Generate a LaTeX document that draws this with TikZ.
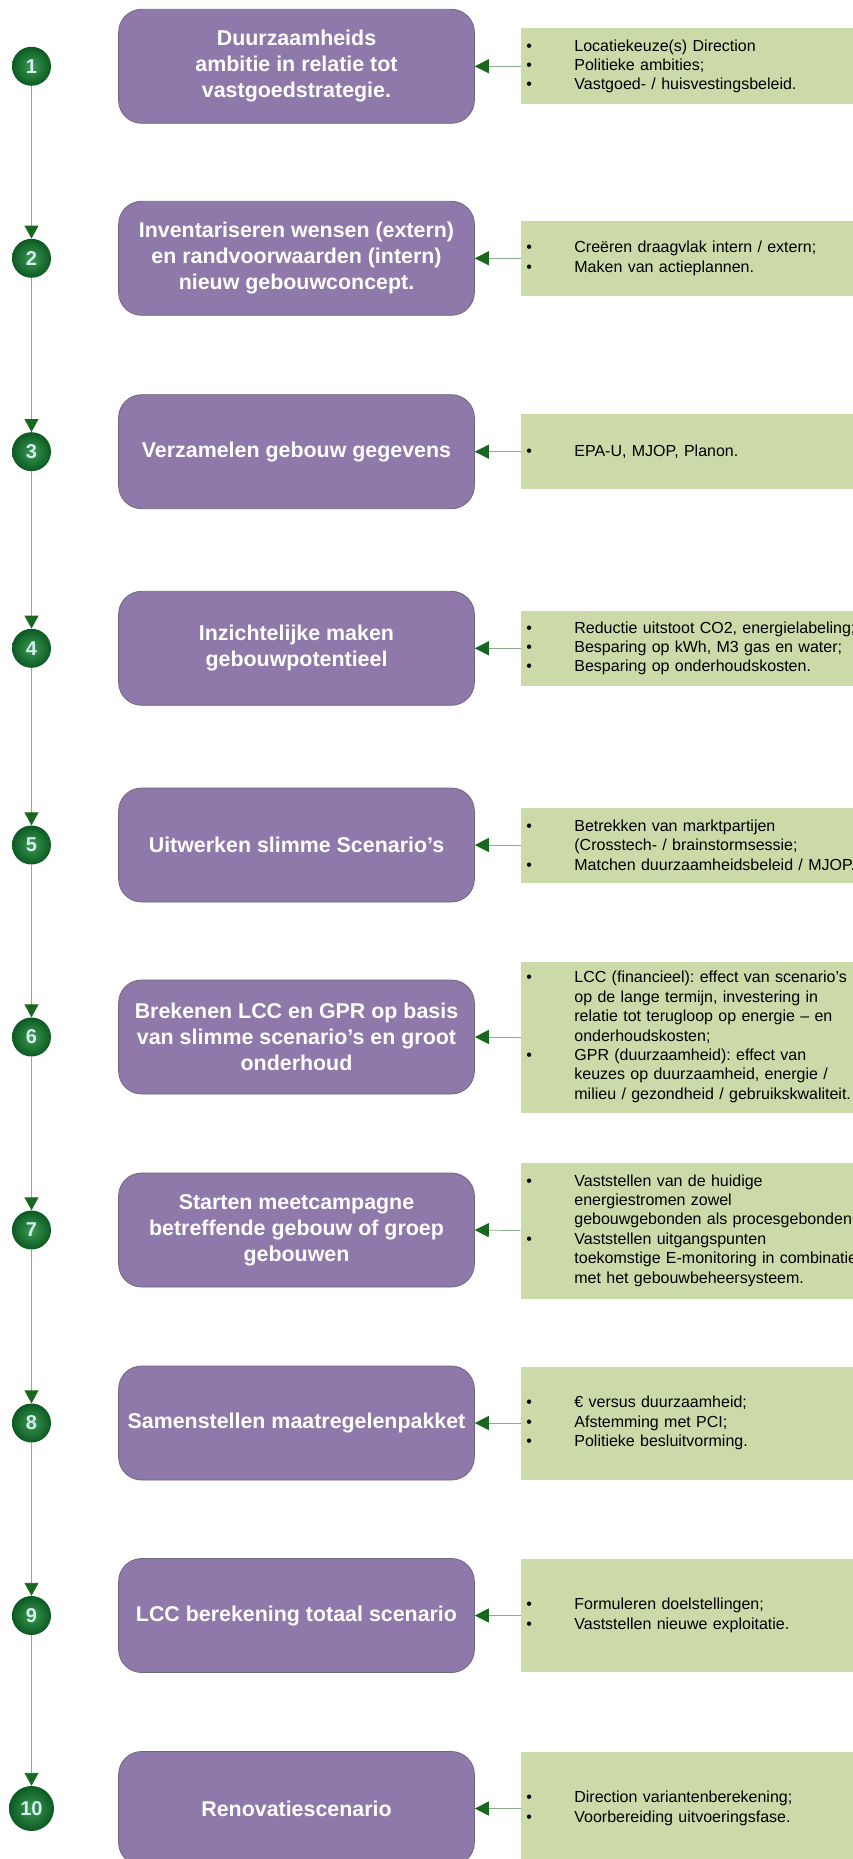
\documentclass[tikz,border=0pt]{standalone}
\usepackage{fontspec}
\setmainfont{Liberation Sans}
\usetikzlibrary{arrows.meta,positioning}
\definecolor{stepviolet}{HTML}{8F78AA}
\definecolor{stepedge}{HTML}{6E6878}
\definecolor{infogreen}{HTML}{CCDAA9}
\definecolor{linegreen}{HTML}{8AAE8A}
\definecolor{tipgreen}{HTML}{17681E}
\definecolor{ballin}{HTML}{3C9A52}
\definecolor{ballout}{HTML}{0C5A22}
\definecolor{numtext}{HTML}{D4EEF2}

\frenchspacing
\newcommand{\itm}{\makebox[48pt][l]{\textbullet}}
\newcommand{\cnt}{\hspace*{48pt}}

\begin{document}
\begin{tikzpicture}[
  x=1pt, y=-1pt,
  stepbox/.style={
    draw=stepedge, line width=0.8pt, rounded corners=23pt,
    fill=stepviolet, text=white, align=center, inner sep=0pt,
    font=\bfseries\fontsize{21.4}{26}\selectfont,
    minimum width=355.8pt, minimum height=114pt
  },
  infobox/.style={
    anchor=west, fill=infogreen, inner xsep=5.5pt, inner ysep=0pt,
    text width=349pt, align=left, text=black,
    font=\fontsize{16}{19.4}\selectfont
  },
  numball/.style={
    circle, inner sep=0pt, minimum size=39pt,
    shading=radial, inner color=ballin, outer color=ballout,
    text=numtext, font=\bfseries\fontsize{20}{20}\selectfont
  },
  feed/.style={draw=linegreen, line width=0.9pt,
    -{Triangle[length=14pt, width=14pt, color=tipgreen]}},
  flow/.style={draw=linegreen, line width=0.9pt,
    -{Triangle[length=13pt, width=14pt, color=tipgreen]}},
]

  \useasboundingbox (0,0) rectangle (853,1859);
  \clip (0,0) rectangle (853,1859);

  % Step 1
  \node[numball] (num1) at (31.5, 66.3) {1};
  \node[stepbox] (step1) at (296.5, 66.3)
    {Duurzaamheids\\ambitie in relatie tot\\vastgoedstrategie.};
  \node[infobox, minimum height=76pt] (info1) at (520.7, 66.3)
    {\itm Locatiekeuze(s) Direction\\
     \itm Politieke ambities;\\
     \itm Vastgoed- / huisvestingsbeleid.};

  % Step 2
  \node[numball] (num2) at (31.5, 258.3) {2};
  \node[stepbox] (step2) at (296.5, 258.3)
    {Inventariseren wensen (extern)\\en randvoorwaarden (intern)\\nieuw gebouwconcept.};
  \node[infobox, minimum height=75pt] (info2) at (520.7, 258.3)
    {\itm Creëren draagvlak intern / extern;\\
     \itm Maken van actieplannen.};

  % Step 3
  \node[numball] (num3) at (31.5, 451.7) {3};
  \node[stepbox] (step3) at (296.5, 451.7) {Verzamelen gebouw gegevens};
  \node[infobox, minimum height=75pt] (info3) at (520.7, 451.7)
    {\itm EPA-U, MJOP, Planon.};

  % Step 4
  \node[numball] (num4) at (31.5, 648.3) {4};
  \node[stepbox] (step4) at (296.5, 648.3)
    {Inzichtelijke maken\\gebouwpotentieel};
  \node[infobox, minimum height=75pt] (info4) at (520.7, 648.3)
    {\itm Reductie uitstoot CO2, energielabeling;\\
     \itm Besparing op kWh, M3 gas en water;\\
     \itm Besparing op onderhoudskosten.};

  % Step 5
  \node[numball] (num5) at (31.5, 845) {5};
  \node[stepbox] (step5) at (296.5, 845) {Uitwerken slimme Scenario’s};
  \node[infobox, minimum height=75pt] (info5) at (520.7, 845)
    {\itm Betrekken van marktpartijen\\
     \cnt (Crosstech- / brainstormsessie;\\
     \itm Matchen duurzaamheidsbeleid / MJOP.};

  % Step 6
  \node[numball] (num6) at (31.5, 1037) {6};
  \node[stepbox] (step6) at (296.5, 1037)
    {Brekenen LCC en GPR op basis\\van slimme scenario’s en groot\\onderhoud};
  \node[infobox, minimum height=151pt] (info6) at (520.7, 1037)
    {\itm LCC (financieel): effect van scenario’s\\
     \cnt op de lange termijn, investering in\\
     \cnt relatie tot terugloop op energie – en\\
     \cnt onderhoudskosten;\\
     \itm GPR (duurzaamheid): effect van\\
     \cnt keuzes op duurzaamheid, energie /\\
     \cnt milieu / gezondheid / gebruikskwaliteit.};

  % Step 7
  \node[numball] (num7) at (31.5, 1230) {7};
  \node[stepbox] (step7) at (296.5, 1230)
    {Starten meetcampagne\\betreffende gebouw of groep\\gebouwen};
  \node[infobox, minimum height=136pt] (info7) at (520.7, 1230.5)
    {\itm Vaststellen van de huidige\\
     \cnt energiestromen zowel\\
     \cnt gebouwgebonden als procesgebonden;\\
     \itm Vaststellen uitgangspunten\\
     \cnt toekomstige E-monitoring in combinatie\\
     \cnt met het gebouwbeheersysteem.};

  % Step 8
  \node[numball] (num8) at (31.5, 1423) {8};
  \node[stepbox] (step8) at (296.5, 1423) {Samenstellen maatregelenpakket};
  \node[infobox, minimum height=113pt] (info8) at (520.7, 1423)
    {\itm € versus duurzaamheid;\\
     \itm Afstemming met PCI;\\
     \itm Politieke besluitvorming.};

  % Step 9
  \node[numball] (num9) at (31.5, 1615.5) {9};
  \node[stepbox] (step9) at (296.5, 1615.5) {LCC berekening totaal scenario};
  \node[infobox, minimum height=113pt] (info9) at (520.7, 1615.5)
    {\itm Formuleren doelstellingen;\\
     \itm Vaststellen nieuwe exploitatie.};

  % Step 10
  \node[numball, minimum size=45pt] (num10) at (31.5, 1808.5) {10};
  \node[stepbox] (step10) at (296.5, 1808.5) {Renovatiescenario};
  \node[infobox, minimum height=113pt] (info10) at (520.7, 1808.5)
    {\itm Direction variantenberekening;\\
     \itm Voorbereiding uitvoeringsfase.};

  % Arrows from the notes into the steps
  \foreach \i in {1,...,10} {
    \draw[feed] (info\i.west) -- (step\i.east);
  }

  % Timeline down the left side
  \foreach \i [count=\j from 2] in {1,...,9} {
    \draw[flow] (num\i) -- (num\j);
  }

\end{tikzpicture}
\end{document}
